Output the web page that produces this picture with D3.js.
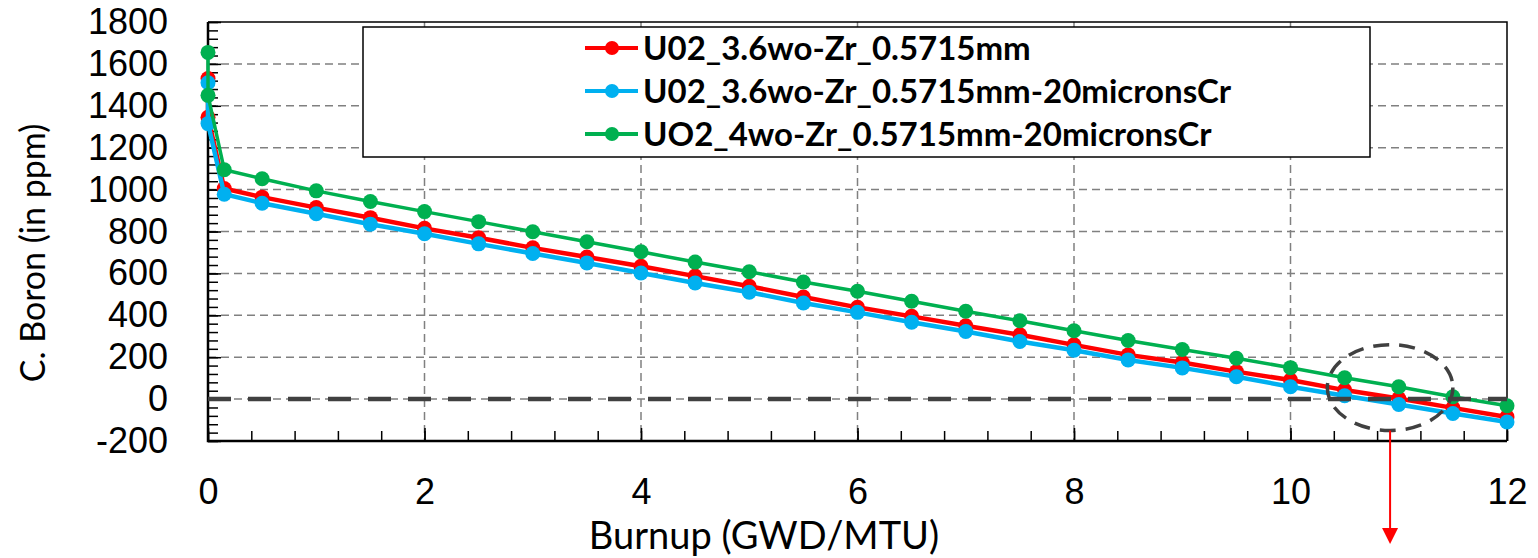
<!DOCTYPE html>
<html>
<head>
<meta charset="utf-8">
<script src="https://cdn.jsdelivr.net/npm/d3@7"></script>
<style>
  body { margin: 0; background: #fff; }
  svg { display: block; font-family: Lato, "Open Sans", sans-serif; }
</style>
</head>
<body>
<div id="chart"></div>
<script>
// burnup points (GWD/MTU), two points at 0 then 0.15 then every 0.5
const burnup = [0, 0, 0.15, 0.5, 1, 1.5, 2, 2.5, 3, 3.5, 4, 4.5, 5, 5.5, 6, 6.5,
  7, 7.5, 8, 8.5, 9, 9.5, 10, 10.5, 11, 11.5, 12];

const boronUO2_36 = [1530, 1345, 1005, 964, 914, 866, 815, 770, 722, 678, 634, 587,
  539, 487, 438, 395, 350, 307, 259, 211, 175, 131, 91, 43, 3, -42, -85];
const boronUO2_36Cr = [1510, 1315, 978, 935, 885, 835, 789, 741, 695, 650, 602, 554,
  510, 459, 414, 367, 323, 275, 233, 187, 149, 107, 59, 16, -26, -69, -109];
const boronUO2_4Cr = [1655, 1450, 1095, 1052, 994, 943, 895, 847, 799, 751, 703, 654,
  608, 559, 515, 467, 419, 374, 326, 280, 237, 195, 150, 102, 59, 11, -32];

const seriesNames = ["U02_3.6wo-Zr_0.5715mm", "U02_3.6wo-Zr_0.5715mm-20micronsCr",
  "UO2_4wo-Zr_0.5715mm-20micronsCr"];
const seriesColors = ["#ff0000", "#00b0f0", "#00b050"];

const xTicks = [0, 2, 4, 6, 8, 10, 12];
const yTicks = [-200, 0, 200, 400, 600, 800, 1000, 1200, 1400, 1600, 1800];

const W = 1538, H = 558;
const pLeft = 208, pRight = 1507, pTop = 22, pBottom = 441;

const x = d3.scaleLinear().domain([0, 12]).range([pLeft, pRight]);
const y = d3.scaleLinear().domain([-200, 1800]).range([pBottom, pTop]);

const svg = d3.select("#chart").append("svg")
  .attr("width", W)
  .attr("height", H);

// grid
const grid = svg.append("g")
  .style("stroke", "#808080")
  .style("stroke-width", 1.5)
  .style("stroke-dasharray", "8,5");
grid.selectAll("line.gx").data(xTicks.slice(1, -1)).enter().append("line")
  .attr("x1", d => x(d)).attr("x2", d => x(d))
  .attr("y1", pTop).attr("y2", pBottom);
grid.selectAll("line.gy").data(yTicks.slice(1, -1)).enter().append("line")
  .attr("x1", pLeft).attr("x2", pRight)
  .attr("y1", d => y(d)).attr("y2", d => y(d));

// frame top / right
svg.append("path")
  .attr("d", `M${pLeft},${pTop}H${pRight}V${pBottom}`)
  .style("fill", "none").style("stroke", "#000").style("stroke-width", 1.5);

// axes with inward ticks
const xMinor = d3.range(0, 12.001, 0.4);
const yMinor = d3.range(-200, 1800.001, 40);

const xAxis = svg.append("g").attr("transform", `translate(0,${pBottom})`);
xAxis.call(d3.axisBottom(x).tickValues(xMinor).tickSize(-10).tickFormat(""));
xAxis.append("g").call(d3.axisBottom(x).tickValues(xTicks).tickSize(-13).tickPadding(37)
  .tickFormat(d => String(d)));
xAxis.selectAll("text").style("font-size", "36px").style("fill", "#000");
xAxis.selectAll("line").style("stroke", "#000").style("stroke-width", 1.5);
xAxis.selectAll(".domain").remove();

const yAxis = svg.append("g").attr("transform", `translate(${pLeft},0)`);
yAxis.call(d3.axisLeft(y).tickValues(yMinor).tickSize(-10).tickFormat(""));
yAxis.append("g").call(d3.axisLeft(y).tickValues(yTicks).tickSize(-13).tickPadding(40)
  .tickFormat(d => String(d)));
yAxis.selectAll("text").style("font-size", "36px").style("fill", "#000");
yAxis.selectAll("line").style("stroke", "#000").style("stroke-width", 1.5);
yAxis.selectAll(".domain").remove();

svg.append("path")
  .attr("d", `M${pLeft},${pTop}V${pBottom}H${pRight}`)
  .style("fill", "none").style("stroke", "#000").style("stroke-width", 2.5);

// series
const allSeries = [boronUO2_36, boronUO2_36Cr, boronUO2_4Cr];
const line = d3.line().x(d => x(d[0])).y(d => y(d[1]));

allSeries.forEach((vals, i) => {
  const pts = burnup.map((b, j) => [b, vals[j]]);
  const g = svg.append("g");
  g.append("path").datum(pts)
    .attr("d", line)
    .style("fill", "none")
    .style("stroke", seriesColors[i])
    .style("stroke-width", i == 2 ? 3.5 : 4.5);
  g.selectAll("circle").data(pts).enter().append("circle")
    .attr("cx", d => x(d[0])).attr("cy", d => y(d[1]))
    .attr("r", 7.5)
    .style("fill", seriesColors[i]);
});

// zero line
svg.append("line")
  .attr("x1", pLeft).attr("x2", pRight)
  .attr("y1", y(0)).attr("y2", y(0))
  .style("stroke", "#404040")
  .style("stroke-width", 4.5)
  .style("stroke-dasharray", "23,17");

// dashed ellipse around the crossing
const ecx = x(10.92), ecy = y(55);
svg.append("ellipse")
  .attr("cx", ecx).attr("cy", ecy)
  .attr("rx", x(10.92) - x(10.34)).attr("ry", y(-150) - y(55))
  .style("fill", "none")
  .style("stroke", "#404040")
  .style("stroke-width", 3.5)
  .style("stroke-dasharray", "16,10");

// red arrow
const arrowTop = y(-150);
svg.append("line")
  .attr("x1", ecx).attr("x2", ecx)
  .attr("y1", arrowTop).attr("y2", 530)
  .style("stroke", "#ff0000").style("stroke-width", 2);
svg.append("path")
  .attr("d", `M${ecx - 8},528L${ecx + 8},528L${ecx},544Z`)
  .style("fill", "#ff0000");

// legend
const lg = svg.append("g");
lg.append("rect")
  .attr("x", 363).attr("y", 27).attr("width", 1007).attr("height", 130)
  .style("fill", "#fff").style("stroke", "#000").style("stroke-width", 1.5);
seriesNames.forEach((name, i) => {
  const ly = 48 + i * 43;
  lg.append("line").attr("x1", 585).attr("x2", 638).attr("y1", ly).attr("y2", ly)
    .style("stroke", seriesColors[i]).style("stroke-width", 4);
  lg.append("circle").attr("cx", 612).attr("cy", ly).attr("r", 7)
    .style("fill", seriesColors[i]);
  lg.append("text").attr("x", 643).attr("y", ly).attr("dy", "0.36em")
    .style("font-size", "33px").style("font-weight", "bold")
    .text(name);
});

// axis titles
svg.append("text")
  .attr("x", 764).attr("y", 549)
  .attr("text-anchor", "middle")
  .style("font-size", "38px")
  .text("Burnup (GWD/MTU)");
svg.append("text")
  .attr("transform", `translate(45,253) rotate(-90)`)
  .attr("text-anchor", "middle")
  .style("font-size", "34px")
  .text("C. Boron (in ppm)");
</script>
</body>
</html>
